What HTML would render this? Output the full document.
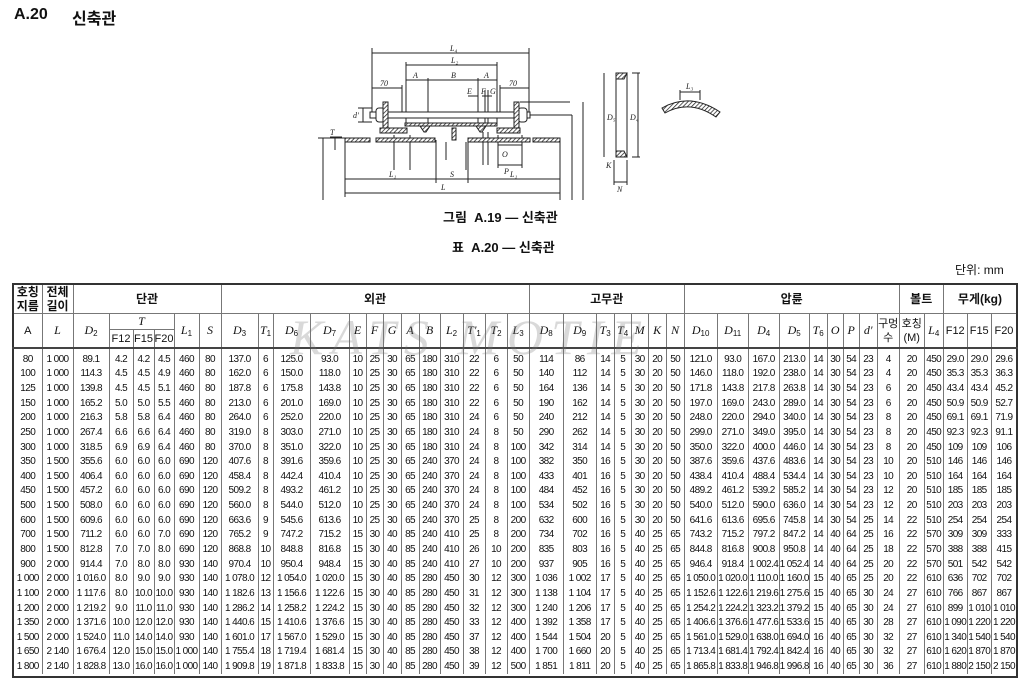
<!DOCTYPE html>
<html><head><meta charset="utf-8">
<style>
html,body{margin:0;padding:0;background:#fff;}
body{width:1024px;height:687px;position:relative;overflow:hidden;font-family:"Liberation Sans","Noto Sans CJK KR",sans-serif;color:#111;}
.abs{position:absolute;white-space:nowrap;}
table{position:absolute;left:12px;top:283px;width:1004px;table-layout:fixed;border-collapse:collapse;border:2px solid #333;font-size:10px;letter-spacing:-0.6px;}
td,th{padding:0;text-align:center;white-space:nowrap;overflow:hidden;border-left:1px solid #777;border-right:1px solid #777;height:14.65px;line-height:14px;}
th{font-weight:normal;font-size:11px;border-top:1px solid #777;border-bottom:1px solid #777;letter-spacing:0;}
tr.h1 th{height:28px;font-weight:bold;font-size:12px;line-height:14px;}
tr.h2a th{height:14px;}
tr.h2b th{height:17px;}
thead tr:last-child th, th.bot{border-bottom:2px solid #444;}
tr.first td{height:18px;vertical-align:bottom;line-height:14px;}
i{font-family:"Liberation Serif",serif;font-size:12px;}
sub{font-size:8px;vertical-align:-2px;line-height:0;}
.wm{position:absolute;left:290px;top:308px;font-family:"Liberation Serif",serif;font-style:italic;font-size:50px;color:rgba(120,120,120,0.28);letter-spacing:8px;}
</style></head><body>
<div class="abs" style="left:14px;top:6px;font-size:16px;font-weight:bold;">A.20</div>
<div class="abs" style="left:72px;top:5px;font-size:16px;font-weight:bold;">신축관</div>

<svg class="abs" style="left:0;top:0" width="1024" height="205" viewBox="0 0 1024 205">
<defs><pattern id="h" width="3" height="3" patternUnits="userSpaceOnUse" patternTransform="rotate(45)"><rect width="3" height="3" fill="#fff"/><line x1="0" y1="0" x2="0" y2="3" stroke="#222" stroke-width="1.5"/></pattern></defs>
<g stroke="#222" stroke-width="1" fill="none">
<line x1="372" y1="53" x2="529" y2="53"/><line x1="372" y1="48" x2="372" y2="115"/><line x1="529" y1="48" x2="529" y2="115"/>
<line x1="406" y1="65" x2="497" y2="65"/><line x1="406" y1="62" x2="406" y2="124"/><line x1="497" y1="62" x2="497" y2="124"/>
<line x1="406" y1="80" x2="497" y2="80"/><line x1="428" y1="78" x2="428" y2="124"/><line x1="478" y1="78" x2="478" y2="124"/>
<line x1="372" y1="88" x2="402" y2="88"/><line x1="402" y1="85" x2="402" y2="112"/><line x1="500" y1="88" x2="529" y2="88"/><line x1="500" y1="85" x2="500" y2="112"/>
<line x1="468" y1="96" x2="478" y2="96"/><line x1="482" y1="96" x2="492" y2="96"/><line x1="485" y1="90" x2="485" y2="125"/><line x1="488" y1="90" x2="488" y2="125"/>
<rect x="370" y="112" width="160" height="6" fill="#fff"/>
<line x1="363" y1="108" x2="363" y2="122"/><line x1="358" y1="108" x2="372" y2="108"/><line x1="358" y1="122" x2="372" y2="122"/>
<line x1="520" y1="102" x2="570" y2="102"/><line x1="530" y1="115" x2="572" y2="115"/>
<line x1="572" y1="115" x2="572" y2="200"/><line x1="583" y1="102" x2="583" y2="200"/><line x1="560" y1="140" x2="560" y2="200"/>
<line x1="345" y1="140" x2="345" y2="197"/><line x1="436" y1="140" x2="436" y2="183"/><line x1="468" y1="140" x2="468" y2="183"/>
<line x1="345" y1="179" x2="560" y2="179"/><line x1="345" y1="193" x2="560" y2="193"/>
<line x1="323" y1="138" x2="323" y2="200"/><line x1="318" y1="138" x2="345" y2="138"/>
<line x1="394" y1="135" x2="394" y2="170"/><line x1="410" y1="135" x2="410" y2="170"/><line x1="446" y1="142" x2="446" y2="160"/><line x1="466" y1="142" x2="466" y2="170"/>
<line x1="483" y1="132" x2="483" y2="165"/><line x1="488" y1="132" x2="488" y2="165"/>
<line x1="498" y1="145" x2="522" y2="145"/><line x1="498" y1="165" x2="522" y2="165"/><line x1="498" y1="135" x2="498" y2="168"/><line x1="522" y1="135" x2="522" y2="168"/>
<line x1="335" y1="137" x2="335" y2="150"/><line x1="330" y1="137" x2="342" y2="137"/>
</g>
<g stroke="#222" stroke-width="1" fill="url(#h)">
<rect x="376" y="108" width="9" height="14" rx="3" fill="#fff"/><rect x="518" y="108" width="9" height="14" rx="3" fill="#fff"/>
<rect x="383" y="102" width="5" height="26"/><rect x="514" y="102" width="5" height="26"/>
<rect x="405" y="123" width="92" height="3"/>
<rect x="380" y="128" width="27" height="5"/><rect x="497" y="128" width="23" height="5"/>
<rect x="345" y="138" width="25" height="4"/><rect x="376" y="138" width="59" height="4"/><rect x="468" y="138" width="62" height="4"/><rect x="533" y="138" width="27" height="4"/>
<rect x="452" y="128" width="4" height="12"/>
<path d="M420 126 L430 126 L426 132 L424 132 Z"/><path d="M476 126 L486 126 L482 132 L480 132 Z"/>
<path d="M616 73 L627 73 L624 79 L616 79 Z"/><path d="M616 151 L624 151 L627 157 L616 157 Z"/>
<path d="M662 108 Q690 92 720 112 L716 117 Q690 99 665 113 Z"/>
</g>
<g stroke="#222" stroke-width="1" fill="none">
<line x1="616" y1="73" x2="616" y2="157"/><line x1="627" y1="73" x2="627" y2="157"/>
<line x1="604" y1="73" x2="604" y2="157"/><line x1="632" y1="73" x2="640" y2="73"/><line x1="638" y1="73" x2="638" y2="157"/><line x1="632" y1="157" x2="640" y2="157"/>
<line x1="614" y1="160" x2="614" y2="185"/><line x1="627" y1="160" x2="627" y2="185"/><line x1="614" y1="182" x2="627" y2="182"/>
<line x1="680" y1="90" x2="680" y2="100"/><line x1="700" y1="90" x2="700" y2="100"/><line x1="680" y1="92" x2="700" y2="92"/>
</g>
<g font-family="Liberation Serif,serif" font-style="italic" font-size="8" fill="#222">
<text x="450" y="51">L₄</text><text x="451" y="63">L₂</text><text x="413" y="78">A</text><text x="451" y="78">B</text><text x="484" y="78">A</text>
<text x="380" y="86">70</text><text x="509" y="86">70</text><text x="467" y="94">E</text><text x="481" y="94">F</text><text x="490" y="94">G</text>
<text x="353" y="118">d'</text><text x="330" y="135">T</text><text x="441" y="190">L</text><text x="389" y="177">L₁</text><text x="450" y="177">S</text><text x="510" y="177">L₁</text>
<text x="502" y="157">O</text><text x="504" y="174">P</text><text x="607" y="120">D₅</text><text x="630" y="120">D₄</text><text x="617" y="192">N</text><text x="606" y="168">K</text><text x="686" y="89">L₃</text>
</g>
</svg>

<div class="abs" style="left:443px;top:207px;font-size:13px;font-weight:bold;">그림&nbsp; A.19 — 신축관</div>
<div class="abs" style="left:452px;top:237px;font-size:13px;font-weight:bold;">표&nbsp; A.20 — 신축관</div>
<div class="abs" style="left:955px;top:261px;font-size:12px;">단위: mm</div>

<table>
<colgroup>
<col style="width:29px"><col style="width:31px"><col style="width:36px"><col style="width:24px"><col style="width:21px"><col style="width:20px"><col style="width:25px"><col style="width:22px"><col style="width:37px"><col style="width:15px"><col style="width:37px"><col style="width:39px"><col style="width:17px"><col style="width:17px"><col style="width:18px"><col style="width:18px"><col style="width:21px"><col style="width:23px"><col style="width:22px"><col style="width:22px"><col style="width:22px"><col style="width:34px"><col style="width:33px"><col style="width:18px"><col style="width:17px"><col style="width:17px"><col style="width:18px"><col style="width:18px"><col style="width:33px"><col style="width:31px"><col style="width:31px"><col style="width:30px"><col style="width:18px"><col style="width:16px"><col style="width:16px"><col style="width:18px"><col style="width:22px"><col style="width:25px"><col style="width:19px"><col style="width:24px"><col style="width:24px"><col style="width:26px">
</colgroup>
<thead>
<tr class="h1"><th>호칭<br>지름</th><th>전체<br>길이</th><th colspan="6">단관</th><th colspan="13">외관</th><th colspan="7">고무관</th><th colspan="9">압륜</th><th colspan="2">볼트</th><th colspan="3">무게(kg)</th></tr>
<tr class="h2a"><th rowspan="2" class="bot">A</th><th rowspan="2" class="bot"><i>L</i></th><th rowspan="2" class="bot"><i>D</i><sub>2</sub></th><th colspan="3"><i>T</i></th><th rowspan="2" class="bot"><i>L</i><sub>1</sub></th><th rowspan="2" class="bot"><i>S</i></th><th rowspan="2" class="bot"><i>D</i><sub>3</sub></th><th rowspan="2" class="bot"><i>T</i><sub>1</sub></th><th rowspan="2" class="bot"><i>D</i><sub>6</sub></th><th rowspan="2" class="bot"><i>D</i><sub>7</sub></th><th rowspan="2" class="bot"><i>E</i></th><th rowspan="2" class="bot"><i>F</i></th><th rowspan="2" class="bot"><i>G</i></th><th rowspan="2" class="bot"><i>A</i></th><th rowspan="2" class="bot"><i>B</i></th><th rowspan="2" class="bot"><i>L</i><sub>2</sub></th><th rowspan="2" class="bot"><i>T'</i><sub>1</sub></th><th rowspan="2" class="bot"><i>T</i><sub>2</sub></th><th rowspan="2" class="bot"><i>L</i><sub>3</sub></th><th rowspan="2" class="bot"><i>D</i><sub>8</sub></th><th rowspan="2" class="bot"><i>D</i><sub>9</sub></th><th rowspan="2" class="bot"><i>T</i><sub>3</sub></th><th rowspan="2" class="bot"><i>T</i><sub>4</sub></th><th rowspan="2" class="bot"><i>M</i></th><th rowspan="2" class="bot"><i>K</i></th><th rowspan="2" class="bot"><i>N</i></th><th rowspan="2" class="bot"><i>D</i><sub>10</sub></th><th rowspan="2" class="bot"><i>D</i><sub>11</sub></th><th rowspan="2" class="bot"><i>D</i><sub>4</sub></th><th rowspan="2" class="bot"><i>D</i><sub>5</sub></th><th rowspan="2" class="bot"><i>T</i><sub>6</sub></th><th rowspan="2" class="bot"><i>O</i></th><th rowspan="2" class="bot"><i>P</i></th><th rowspan="2" class="bot"><i>d'</i></th><th rowspan="2" class="bot" style="line-height:14px">구멍<br>수</th><th rowspan="2" class="bot" style="line-height:14px">호칭<br>(M)</th><th rowspan="2" class="bot"><i>L</i><sub>4</sub></th><th rowspan="2" class="bot">F12</th><th rowspan="2" class="bot">F15</th><th rowspan="2" class="bot">F20</th></tr>
<tr class="h2b"><th>F12</th><th>F15</th><th>F20</th></tr>
</thead>
<tbody>
<tr class="first"><td>80<td>1 000<td>89.1<td>4.2<td>4.2<td>4.5<td>460<td>80<td>137.0<td>6<td>125.0<td>93.0<td>10<td>25<td>30<td>65<td>180<td>310<td>22<td>6<td>50<td>114<td>86<td>14<td>5<td>30<td>20<td>50<td>121.0<td>93.0<td>167.0<td>213.0<td>14<td>30<td>54<td>23<td>4<td>20<td>450<td>29.0<td>29.0<td>29.6</tr>
<tr><td>100<td>1 000<td>114.3<td>4.5<td>4.5<td>4.9<td>460<td>80<td>162.0<td>6<td>150.0<td>118.0<td>10<td>25<td>30<td>65<td>180<td>310<td>22<td>6<td>50<td>140<td>112<td>14<td>5<td>30<td>20<td>50<td>146.0<td>118.0<td>192.0<td>238.0<td>14<td>30<td>54<td>23<td>4<td>20<td>450<td>35.3<td>35.3<td>36.3</tr>
<tr><td>125<td>1 000<td>139.8<td>4.5<td>4.5<td>5.1<td>460<td>80<td>187.8<td>6<td>175.8<td>143.8<td>10<td>25<td>30<td>65<td>180<td>310<td>22<td>6<td>50<td>164<td>136<td>14<td>5<td>30<td>20<td>50<td>171.8<td>143.8<td>217.8<td>263.8<td>14<td>30<td>54<td>23<td>6<td>20<td>450<td>43.4<td>43.4<td>45.2</tr>
<tr><td>150<td>1 000<td>165.2<td>5.0<td>5.0<td>5.5<td>460<td>80<td>213.0<td>6<td>201.0<td>169.0<td>10<td>25<td>30<td>65<td>180<td>310<td>22<td>6<td>50<td>190<td>162<td>14<td>5<td>30<td>20<td>50<td>197.0<td>169.0<td>243.0<td>289.0<td>14<td>30<td>54<td>23<td>6<td>20<td>450<td>50.9<td>50.9<td>52.7</tr>
<tr><td>200<td>1 000<td>216.3<td>5.8<td>5.8<td>6.4<td>460<td>80<td>264.0<td>6<td>252.0<td>220.0<td>10<td>25<td>30<td>65<td>180<td>310<td>24<td>6<td>50<td>240<td>212<td>14<td>5<td>30<td>20<td>50<td>248.0<td>220.0<td>294.0<td>340.0<td>14<td>30<td>54<td>23<td>8<td>20<td>450<td>69.1<td>69.1<td>71.9</tr>
<tr><td>250<td>1 000<td>267.4<td>6.6<td>6.6<td>6.4<td>460<td>80<td>319.0<td>8<td>303.0<td>271.0<td>10<td>25<td>30<td>65<td>180<td>310<td>24<td>8<td>50<td>290<td>262<td>14<td>5<td>30<td>20<td>50<td>299.0<td>271.0<td>349.0<td>395.0<td>14<td>30<td>54<td>23<td>8<td>20<td>450<td>92.3<td>92.3<td>91.1</tr>
<tr><td>300<td>1 000<td>318.5<td>6.9<td>6.9<td>6.4<td>460<td>80<td>370.0<td>8<td>351.0<td>322.0<td>10<td>25<td>30<td>65<td>180<td>310<td>24<td>8<td>100<td>342<td>314<td>14<td>5<td>30<td>20<td>50<td>350.0<td>322.0<td>400.0<td>446.0<td>14<td>30<td>54<td>23<td>8<td>20<td>450<td>109<td>109<td>106</tr>
<tr><td>350<td>1 500<td>355.6<td>6.0<td>6.0<td>6.0<td>690<td>120<td>407.6<td>8<td>391.6<td>359.6<td>10<td>25<td>30<td>65<td>240<td>370<td>24<td>8<td>100<td>382<td>350<td>16<td>5<td>30<td>20<td>50<td>387.6<td>359.6<td>437.6<td>483.6<td>14<td>30<td>54<td>23<td>10<td>20<td>510<td>146<td>146<td>146</tr>
<tr><td>400<td>1 500<td>406.4<td>6.0<td>6.0<td>6.0<td>690<td>120<td>458.4<td>8<td>442.4<td>410.4<td>10<td>25<td>30<td>65<td>240<td>370<td>24<td>8<td>100<td>433<td>401<td>16<td>5<td>30<td>20<td>50<td>438.4<td>410.4<td>488.4<td>534.4<td>14<td>30<td>54<td>23<td>10<td>20<td>510<td>164<td>164<td>164</tr>
<tr><td>450<td>1 500<td>457.2<td>6.0<td>6.0<td>6.0<td>690<td>120<td>509.2<td>8<td>493.2<td>461.2<td>10<td>25<td>30<td>65<td>240<td>370<td>24<td>8<td>100<td>484<td>452<td>16<td>5<td>30<td>20<td>50<td>489.2<td>461.2<td>539.2<td>585.2<td>14<td>30<td>54<td>23<td>12<td>20<td>510<td>185<td>185<td>185</tr>
<tr><td>500<td>1 500<td>508.0<td>6.0<td>6.0<td>6.0<td>690<td>120<td>560.0<td>8<td>544.0<td>512.0<td>10<td>25<td>30<td>65<td>240<td>370<td>24<td>8<td>100<td>534<td>502<td>16<td>5<td>30<td>20<td>50<td>540.0<td>512.0<td>590.0<td>636.0<td>14<td>30<td>54<td>23<td>12<td>20<td>510<td>203<td>203<td>203</tr>
<tr><td>600<td>1 500<td>609.6<td>6.0<td>6.0<td>6.0<td>690<td>120<td>663.6<td>9<td>545.6<td>613.6<td>10<td>25<td>30<td>65<td>240<td>370<td>25<td>8<td>200<td>632<td>600<td>16<td>5<td>30<td>20<td>50<td>641.6<td>613.6<td>695.6<td>745.8<td>14<td>30<td>54<td>25<td>14<td>22<td>510<td>254<td>254<td>254</tr>
<tr><td>700<td>1 500<td>711.2<td>6.0<td>6.0<td>7.0<td>690<td>120<td>765.2<td>9<td>747.2<td>715.2<td>15<td>30<td>40<td>85<td>240<td>410<td>25<td>8<td>200<td>734<td>702<td>16<td>5<td>40<td>25<td>65<td>743.2<td>715.2<td>797.2<td>847.2<td>14<td>40<td>64<td>25<td>16<td>22<td>570<td>309<td>309<td>333</tr>
<tr><td>800<td>1 500<td>812.8<td>7.0<td>7.0<td>8.0<td>690<td>120<td>868.8<td>10<td>848.8<td>816.8<td>15<td>30<td>40<td>85<td>240<td>410<td>26<td>10<td>200<td>835<td>803<td>16<td>5<td>40<td>25<td>65<td>844.8<td>816.8<td>900.8<td>950.8<td>14<td>40<td>64<td>25<td>18<td>22<td>570<td>388<td>388<td>415</tr>
<tr><td>900<td>2 000<td>914.4<td>7.0<td>8.0<td>8.0<td>930<td>140<td>970.4<td>10<td>950.4<td>948.4<td>15<td>30<td>40<td>85<td>240<td>410<td>27<td>10<td>200<td>937<td>905<td>16<td>5<td>40<td>25<td>65<td>946.4<td>918.4<td>1 002.4<td>1 052.4<td>14<td>40<td>64<td>25<td>20<td>22<td>570<td>501<td>542<td>542</tr>
<tr><td>1 000<td>2 000<td>1 016.0<td>8.0<td>9.0<td>9.0<td>930<td>140<td>1 078.0<td>12<td>1 054.0<td>1 020.0<td>15<td>30<td>40<td>85<td>280<td>450<td>30<td>12<td>300<td>1 036<td>1 002<td>17<td>5<td>40<td>25<td>65<td>1 050.0<td>1 020.0<td>1 110.0<td>1 160.0<td>15<td>40<td>65<td>25<td>20<td>22<td>610<td>636<td>702<td>702</tr>
<tr><td>1 100<td>2 000<td>1 117.6<td>8.0<td>10.0<td>10.0<td>930<td>140<td>1 182.6<td>13<td>1 156.6<td>1 122.6<td>15<td>30<td>40<td>85<td>280<td>450<td>31<td>12<td>300<td>1 138<td>1 104<td>17<td>5<td>40<td>25<td>65<td>1 152.6<td>1 122.6<td>1 219.6<td>1 275.6<td>15<td>40<td>65<td>30<td>24<td>27<td>610<td>766<td>867<td>867</tr>
<tr><td>1 200<td>2 000<td>1 219.2<td>9.0<td>11.0<td>11.0<td>930<td>140<td>1 286.2<td>14<td>1 258.2<td>1 224.2<td>15<td>30<td>40<td>85<td>280<td>450<td>32<td>12<td>300<td>1 240<td>1 206<td>17<td>5<td>40<td>25<td>65<td>1 254.2<td>1 224.2<td>1 323.2<td>1 379.2<td>15<td>40<td>65<td>30<td>24<td>27<td>610<td>899<td>1 010<td>1 010</tr>
<tr><td>1 350<td>2 000<td>1 371.6<td>10.0<td>12.0<td>12.0<td>930<td>140<td>1 440.6<td>15<td>1 410.6<td>1 376.6<td>15<td>30<td>40<td>85<td>280<td>450<td>33<td>12<td>400<td>1 392<td>1 358<td>17<td>5<td>40<td>25<td>65<td>1 406.6<td>1 376.6<td>1 477.6<td>1 533.6<td>15<td>40<td>65<td>30<td>28<td>27<td>610<td>1 090<td>1 220<td>1 220</tr>
<tr><td>1 500<td>2 000<td>1 524.0<td>11.0<td>14.0<td>14.0<td>930<td>140<td>1 601.0<td>17<td>1 567.0<td>1 529.0<td>15<td>30<td>40<td>85<td>280<td>450<td>37<td>12<td>400<td>1 544<td>1 504<td>20<td>5<td>40<td>25<td>65<td>1 561.0<td>1 529.0<td>1 638.0<td>1 694.0<td>16<td>40<td>65<td>30<td>32<td>27<td>610<td>1 340<td>1 540<td>1 540</tr>
<tr><td>1 650<td>2 140<td>1 676.4<td>12.0<td>15.0<td>15.0<td>1 000<td>140<td>1 755.4<td>18<td>1 719.4<td>1 681.4<td>15<td>30<td>40<td>85<td>280<td>450<td>38<td>12<td>400<td>1 700<td>1 660<td>20<td>5<td>40<td>25<td>65<td>1 713.4<td>1 681.4<td>1 792.4<td>1 842.4<td>16<td>40<td>65<td>30<td>32<td>27<td>610<td>1 620<td>1 870<td>1 870</tr>
<tr><td>1 800<td>2 140<td>1 828.8<td>13.0<td>16.0<td>16.0<td>1 000<td>140<td>1 909.8<td>19<td>1 871.8<td>1 833.8<td>15<td>30<td>40<td>85<td>280<td>450<td>39<td>12<td>500<td>1 851<td>1 811<td>20<td>5<td>40<td>25<td>65<td>1 865.8<td>1 833.8<td>1 946.8<td>1 996.8<td>16<td>40<td>65<td>30<td>36<td>27<td>610<td>1 880<td>2 150<td>2 150</tr>
<tr><td colspan="42" style="height:2px;line-height:2px;border:none"></td></tr>
</tbody>
</table>
<div class="wm">KATS MOTIE</div>
</body></html>
